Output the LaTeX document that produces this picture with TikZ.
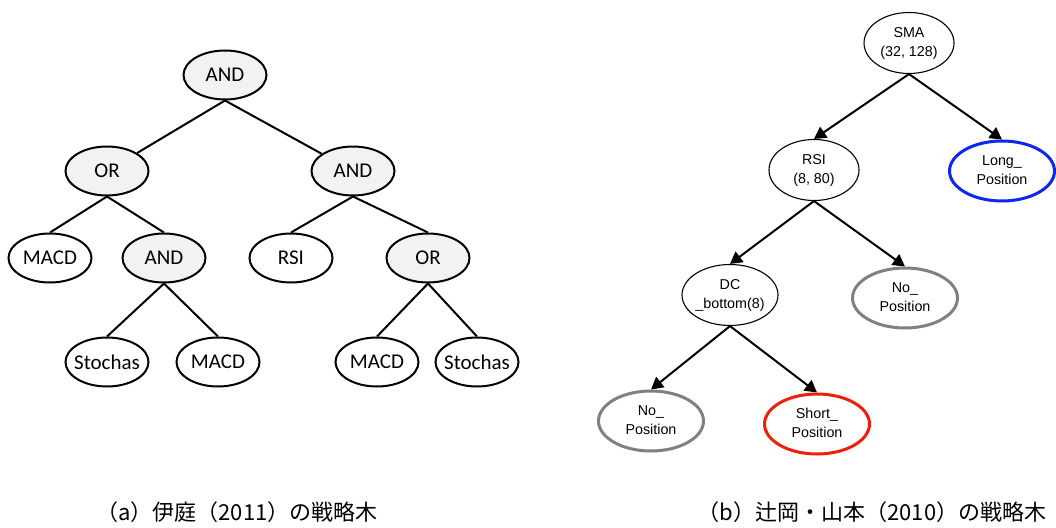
\documentclass[tikz,border=0pt]{standalone}
\usepackage{fontspec}
\usetikzlibrary{shapes.geometric,arrows.meta}
\newfontfamily\leftfont{Carlito}
\newfontfamily\rightfont{Liberation Sans}
\newfontfamily\cjk{Noto Sans CJK JP}
\newcommand\zw[1]{\makebox[0pt]{#1}}
\newcommand\twol[2]{\zw{\begin{tabular}{@{}c@{}}#1\\#2\end{tabular}}}
\definecolor{opfill}{HTML}{F2F2F2}
\definecolor{longblue}{HTML}{0A28F0}
\definecolor{shortred}{HTML}{F01E0A}
\definecolor{nogray}{HTML}{808080}
\tikzset{
  lnode/.style={ellipse,draw=black,line width=2pt,fill=white,inner sep=0pt,
    minimum width=83pt,minimum height=49pt,font=\leftfont\fontsize{21}{24}\selectfont},
  opnode/.style={lnode,fill=opfill},
  ledge/.style={line width=2pt},
  rnode/.style={ellipse,draw=black,line width=1.1pt,fill=white,inner sep=0pt,
    minimum width=90pt,minimum height=61pt,
    font=\rightfont\fontsize{14.3}{19}\selectfont},
  leafnode/.style={rnode,line width=3pt,minimum width=105pt,minimum height=60pt},
  arr/.style={line width=2pt,-{Triangle[length=12pt,width=13pt]}},
  captext/.style={font=\cjk\fontsize{22}{24}\selectfont,inner sep=0pt}
}
\begin{document}
\begin{tikzpicture}[x=1pt,y=-1pt]
\useasboundingbox (0,0) rectangle (1056,527);
% ---------- left tree ----------
\node[opnode] (a0) at (225,75) {\zw{AND}};
\node[opnode] (o1) at (107,171) {\zw{OR}};
\node[opnode] (a1) at (353,171) {\zw{AND}};
\node[lnode]  (m1) at (50,258) {\zw{MACD}};
\node[opnode] (a2) at (164,258) {\zw{AND}};
\node[lnode]  (r1) at (291,258) {\zw{RSI}};
\node[opnode] (o2) at (428,258) {\zw{OR}};
\node[lnode]  (s1) at (107,362) {\zw{Stochas}};
\node[lnode]  (m2) at (218,362) {\zw{MACD}};
\node[lnode]  (m3) at (377,362) {\zw{MACD}};
\node[lnode]  (s2) at (477,362) {\zw{Stochas}};
\draw[ledge] (a0.south) -- (o1);
\draw[ledge] (a0.south) -- (a1);
\draw[ledge] (o1.south) -- (m1.north);
\draw[ledge] (o1.south) -- (a2.north);
\draw[ledge] (a1.south) -- (r1.north);
\draw[ledge] (a1.south) -- (o2.north);
\draw[ledge] (a2.south) -- (s1.north);
\draw[ledge] (a2.south) -- (m2.north);
\draw[ledge] (o2.south) -- (m3.north);
\draw[ledge] (o2.south) -- (s2.north);
% ---------- right tree ----------
\node[rnode] (sma) at (909,43) {\twol{SMA}{(32, 128)}};
\node[rnode] (rsi) at (814,170) {\twol{RSI}{(8, 80)}};
\node[leafnode,draw=longblue] (long) at (1002,171) {\twol{Long\_}{Position}};
\node[rnode,minimum width=96pt] (dc) at (730,295) {\twol{DC}{\_bottom(8)}};
\node[leafnode,draw=nogray] (no1) at (905,298) {\twol{No\_}{Position}};
\node[leafnode,draw=nogray] (no2) at (651,421) {\twol{No\_}{Position}};
\node[leafnode,draw=shortred] (short) at (817,424) {\twol{Short\_}{Position}};
\draw[arr] (sma.south) -- (rsi.north);
\draw[arr] (sma.south) -- (long.north);
\draw[arr] (rsi.south) -- (dc.north);
\draw[arr] (rsi.south) -- (no1.north);
\draw[arr] (dc.south) -- (no2.north);
\draw[arr] (dc.south) -- (short.north);
% ---------- captions ----------
\node[captext] (capa) at (237,512) {（a）伊庭（2011）の戦略木};
\node[captext] (capb) at (872,512) {（b）辻岡・山本（2010）の戦略木};
\end{tikzpicture}
\end{document}
